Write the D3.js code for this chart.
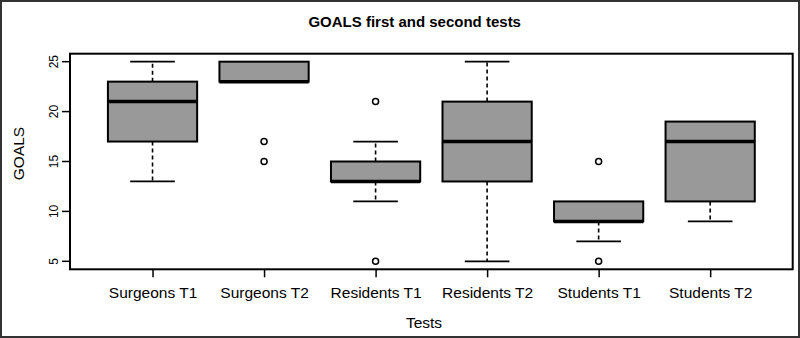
<!DOCTYPE html>
<html><head><meta charset="utf-8">
<script src="https://cdn.jsdelivr.net/npm/d3@7"></script>
<style>body{margin:0;background:#fff}svg{display:block}text{font-family:"Liberation Sans",Arial,sans-serif;fill:#000}</style>
</head><body><div id="chart"></div>
<script>
const categories = ["Surgeons T1","Surgeons T2","Residents T1","Residents T2","Students T1","Students T2"];
const whiskerLow = [13, 23, 11, 5, 7, 9];
const q1 = [17, 23, 13, 13, 9, 11];
const median = [21, 23, 13, 17, 9, 17];
const q3 = [23, 25, 15, 21, 11, 19];
const whiskerHigh = [25, 25, 17, 25, 11, 19];
const outliers = [[], [17, 15], [21, 5], [], [15, 5], []];
const yTicks = [5, 10, 15, 20, 25];
const title = "GOALS first and second tests";
const xTitle = "Tests";
const yTitle = "GOALS";

const W = 800, H = 338;
const plot = {l: 70, r: 792.7, t: 53.7, b: 269.3};
const svg = d3.select("#chart").append("svg").attr("width", W).attr("height", H);
svg.append("rect").attr("x",1).attr("y",1).attr("width",W-2).attr("height",H-2)
  .attr("fill","#fff").attr("stroke","#333").attr("stroke-width",2);

const idx = categories.map((d,i)=>i+1);
const x = d3.scaleLinear().domain([0.5-0.24, 6.5+0.24]).range([plot.l, plot.r]);
const y = d3.scaleLinear().domain([4.2, 25.8]).range([plot.b, plot.t]);
const bw = 0.4; // half box width in units

// axes
const yAxis = d3.axisLeft(y).tickValues(yTicks).tickSize(8).tickFormat(d3.format("d"));
const gy = svg.append("g").attr("transform",`translate(${plot.l},0)`).call(yAxis);
gy.select(".domain").remove();
gy.selectAll("line").attr("stroke","#000").attr("stroke-width",1.5);
gy.selectAll("text").attr("font-size",12).attr("transform",function(d){return `translate(-12,${y(d)}) rotate(-90)`;})
  .attr("x",0).attr("y",0).attr("dy","0").attr("text-anchor","middle").style("font-family","Liberation Sans, Arial, sans-serif");
// reposition: text should be rotated about its own location
gy.selectAll(".tick").attr("transform", null);
gy.selectAll(".tick line").attr("y1", d=>y(d)).attr("y2", d=>y(d));

const xAxis = d3.axisBottom(x).tickValues(idx).tickSize(8).tickFormat((d)=>categories[d-1]);
const gx = svg.append("g").attr("transform",`translate(0,${plot.b})`).call(xAxis);
gx.select(".domain").remove();
gx.selectAll("line").attr("stroke","#000").attr("stroke-width",1.5);
gx.selectAll("text").attr("font-size",15.5).attr("y",28.5).attr("dy",0).style("font-family","Liberation Sans, Arial, sans-serif");

// boxes
const g = svg.append("g");
idx.forEach((c,i)=>{
  const cx = x(c);
  const hw = x(c+bw)-cx;
  // whiskers
  [[q3[i], whiskerHigh[i]],[q1[i], whiskerLow[i]]].forEach(([a,b])=>{
    if (a!==b){
      g.append("line").attr("x1",cx).attr("x2",cx).attr("y1",y(a)).attr("y2",y(b))
        .attr("stroke","#000").attr("stroke-width",1.6).attr("stroke-dasharray","4,3");
      g.append("line").attr("x1",cx-hw/2).attr("x2",cx+hw/2).attr("y1",y(b)).attr("y2",y(b))
        .attr("stroke","#000").attr("stroke-width",1.8);
    }
  });
  g.append("rect").attr("x",cx-hw).attr("width",2*hw).attr("y",y(q3[i])).attr("height",y(q1[i])-y(q3[i]))
    .attr("fill","#999999").attr("stroke","#000").attr("stroke-width",2);
  g.append("line").attr("x1",cx-hw).attr("x2",cx+hw).attr("y1",y(median[i])).attr("y2",y(median[i]))
    .attr("stroke","#000").attr("stroke-width",3.5);
  outliers[i].forEach(v=>{
    g.append("circle").attr("cx",cx).attr("cy",y(v)).attr("r",3).attr("fill","none")
      .attr("stroke","#000").attr("stroke-width",1.5);
  });
});

// plot frame
svg.append("rect").attr("x",plot.l).attr("y",plot.t).attr("width",plot.r-plot.l).attr("height",plot.b-plot.t)
  .attr("fill","none").attr("stroke","#000").attr("stroke-width",2);

svg.append("text").attr("x",414.7).attr("y",27).attr("text-anchor","middle")
  .attr("font-size",15).attr("font-weight","bold").text(title);
svg.append("text").attr("x",424).attr("y",328).attr("text-anchor","middle")
  .attr("font-size",15.5).text(xTitle);
svg.append("text").attr("transform","translate(24,153.5) rotate(-90)").attr("text-anchor","middle")
  .attr("font-size",15.5).text(yTitle);
</script></body></html>
